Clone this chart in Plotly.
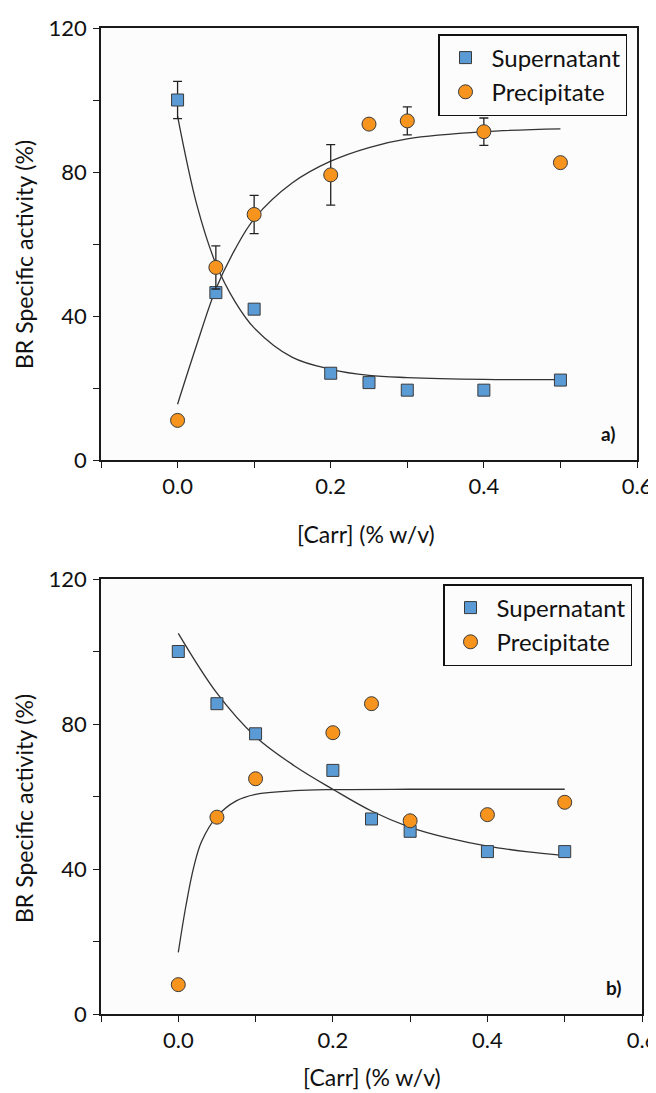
import plotly.graph_objects as go

# ---------------- data ----------------
conc = [0, 0.05, 0.1, 0.2, 0.25, 0.3, 0.4, 0.5]

# panel a)
a_super = [100, 46.5, 41.9, 24.1, 21.5, 19.4, 19.4, 22.2]
a_super_err = [5.2, None, None, None, None, None, 1.0, None]
a_prec = [11.0, 53.5, 68.2, 79.2, 93.3, 94.2, 91.2, 82.6]
a_prec_err = [None, 6.0, 5.3, 8.4, None, 3.9, 3.8, None]

a_fit_x = [0, 0.025, 0.05, 0.075, 0.1, 0.15, 0.2, 0.25, 0.3, 0.4, 0.5]
a_super_fit = [95.5, 71, 54.5, 44, 36.7, 28.5, 25.2, 23.5, 22.9, 22.4, 22.3]
a_prec_fit = [15.5, 32, 47.5, 58.5, 67, 77, 83, 86.8, 89.2, 91.2, 92.0]

# panel b)
b_super = [100, 85.6, 77.3, 67.2, 53.8, 50.4, 44.8, 44.8]
b_prec = [8.1, 54.3, 64.9, 77.6, 85.6, 53.3, 55.0, 58.4]

b_super_fit_x = [0, 0.05, 0.1, 0.15, 0.2, 0.25, 0.3, 0.35, 0.4, 0.45, 0.5]
b_super_fit = [105, 88.5, 76.5, 68.5, 62, 56, 51.5, 48.5, 46.3, 44.8, 43.7]
b_prec_fit_x = [0, 0.01, 0.02, 0.03, 0.05, 0.075, 0.1, 0.15, 0.2, 0.3, 0.4, 0.5]
b_prec_fit = [17, 30, 40.5, 47.5, 54.5, 58.8, 60.6, 61.6, 61.9, 62, 62, 62]

x_tickvals = [-0.1, 0, 0.1, 0.2, 0.3, 0.4, 0.5, 0.6]
x_ticktext = ["", "0.0", "", "0.2", "", "0.4", "", "0.6"]
y_tickvals = [0, 20, 40, 60, 80, 100, 120]
y_ticktext = ["0", "", "40", "", "80", "", "120"]

names = ["Supernatant", "Precipitate"]
x_title = "[Carr] (% w/v)"
y_title = "BR Specific activity (%)"

# ---------------- style ----------------
BLUE = "#5B9BD5"
ORANGE = "#F7941D"
EDGE = "#3a3a3a"
FONT = "Lato"
TXT = "#111111"

OFF = 8                      # page body margin in the browser
W, H = 656 - OFF, 1093 - OFF
ML = 101 - OFF
MT = 28 - OFF
MR = W - (642 - OFF)
MB = H - (1014 - OFF)

fig = go.Figure()

def add_panel(xa, ya, leg, sup, prec, sup_err, prec_err, fits):
    for fx, fy in fits:
        fig.add_trace(go.Scatter(x=fx, y=fy, mode="lines", line=dict(color="#333333", width=1.3, shape="spline"),
                                 showlegend=False, hoverinfo="skip", xaxis=xa, yaxis=ya))
    fig.add_trace(go.Scatter(
        x=conc, y=sup, mode="markers", name=names[0], legend=leg,
        marker=dict(symbol="square", size=12, color=BLUE, line=dict(color=EDGE, width=1)),
        error_y=dict(type="data", array=sup_err, visible=True, color="#222222", thickness=1.3, width=4.5)
        if sup_err is not None else None,
        xaxis=xa, yaxis=ya))
    fig.add_trace(go.Scatter(
        x=conc, y=prec, mode="markers", name=names[1], legend=leg,
        marker=dict(symbol="circle", size=14, color=ORANGE, line=dict(color=EDGE, width=1)),
        error_y=dict(type="data", array=prec_err, visible=True, color="#222222", thickness=1.3, width=4.5)
        if prec_err is not None else None,
        xaxis=xa, yaxis=ya))

add_panel("x", "y", "legend", a_super, a_prec, a_super_err, a_prec_err,
          [(a_fit_x, a_super_fit), (a_fit_x, a_prec_fit)])
add_panel("x2", "y2", "legend2", b_super, b_prec, None, None,
          [(b_super_fit_x, b_super_fit), (b_prec_fit_x, b_prec_fit)])

axis_common = dict(showline=True, linecolor="#1a1a1a", linewidth=1.6, mirror=True,
                   ticks="outside", ticklen=6, tickwidth=1.4, tickcolor="#1a1a1a",
                   showgrid=False, zeroline=False, automargin=False,
                   tickfont=dict(family=FONT, size=22, color=TXT))

xcommon = dict(axis_common, range=[-0.1, 0.6], tickmode="array", tickvals=x_tickvals, ticktext=x_ticktext,
               ticklabeloverflow="allow")
ycommon = dict(axis_common, range=[0, 120], tickmode="array", tickvals=y_tickvals, ticktext=y_ticktext,
               ticklabelstandoff=2)

legend_common = dict(bgcolor="rgba(255,255,255,0)", bordercolor=TXT, borderwidth=1.5,
                     font=dict(family=FONT, size=24, color=TXT), xanchor="left", yanchor="top",
                     itemwidth=42)

# screen pixel -> paper coordinate
def px_x(px):
    return (px - OFF - ML) / (W - ML - MR)

def px_y(py):
    return 1 - (py - OFF - MT) / (H - MT - MB)

title_font = dict(family=FONT, size=23, color=TXT)
annotations = [
    dict(text="<b>a)</b>", x=0.965, y=0.03, xref="x domain", yref="y domain", showarrow=False,
         xanchor="right", yanchor="bottom", font=dict(family=FONT, size=19, color=TXT)),
    dict(text="<b>b)</b>", x=0.965, y=0.03, xref="x2 domain", yref="y2 domain", showarrow=False,
         xanchor="right", yanchor="bottom", font=dict(family=FONT, size=19, color=TXT)),
    dict(text=x_title, x=px_x(366), y=px_y(534), xref="paper", yref="paper", showarrow=False,
         xanchor="center", yanchor="middle", font=title_font),
    dict(text=x_title, x=px_x(372), y=px_y(1077), xref="paper", yref="paper", showarrow=False,
         xanchor="center", yanchor="middle", font=title_font),
    dict(text=y_title, x=px_x(24), y=px_y(255), xref="paper", yref="paper", showarrow=False,
         xanchor="center", yanchor="middle", textangle=-90, font=title_font),
    dict(text=y_title, x=px_x(24), y=px_y(809), xref="paper", yref="paper", showarrow=False,
         xanchor="center", yanchor="middle", textangle=-90, font=title_font),
]

fig.update_layout(
    width=W, height=H,
    margin=dict(l=ML, r=MR, t=MT, b=MB, autoexpand=False),
    paper_bgcolor="white", plot_bgcolor="#fcfcfc",
    xaxis=dict(xcommon, domain=[0, px_x(637)], anchor="y"),
    yaxis=dict(ycommon, domain=[px_y(460), 1.0], anchor="x"),
    xaxis2=dict(xcommon, domain=[0, 1.0], anchor="y2"),
    yaxis2=dict(ycommon, domain=[0.0, px_y(579)], anchor="x2"),
    legend=dict(legend_common, x=px_x(438), y=px_y(34)),
    legend2=dict(legend_common, x=px_x(443), y=px_y(584)),
    annotations=annotations,
)

fig.write_html("out.html")
